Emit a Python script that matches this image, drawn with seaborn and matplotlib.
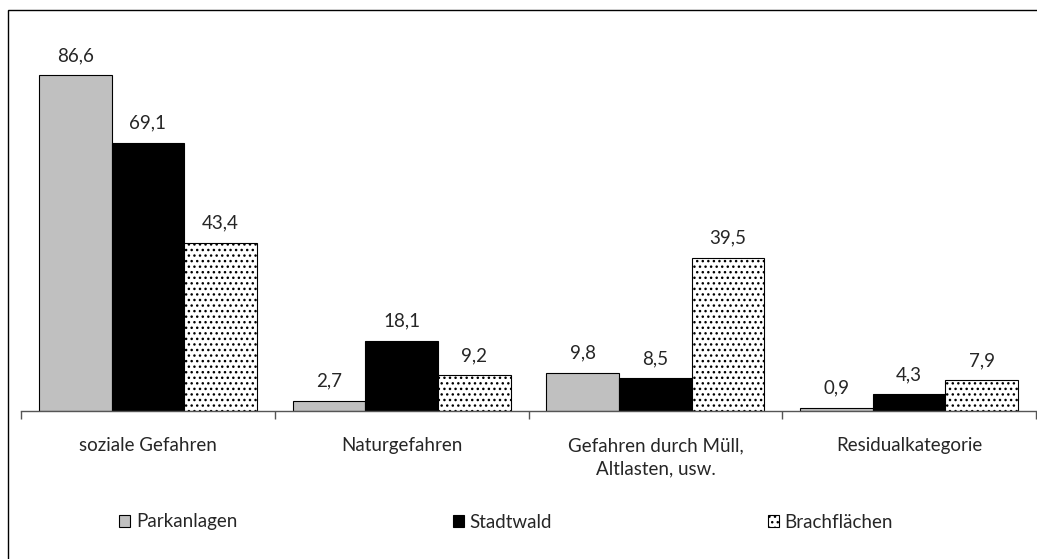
import seaborn as sns
import matplotlib.pyplot as plt
import pandas as pd
from matplotlib.patches import Rectangle

# values (percent)
categories = ['soziale Gefahren', 'Naturgefahren', 'Gefahren durch Müll,\nAltlasten, usw.', 'Residualkategorie']
series = ['Parkanlagen', 'Stadtwald', 'Brachflächen']
parkanlagen = [86.6, 2.7, 9.8, 0.9]
stadtwald = [69.1, 18.1, 8.5, 4.3]
brachflaechen = [43.4, 9.2, 39.5, 7.9]

df = pd.DataFrame({
    'Kategorie': categories * 3,
    'Gebiet': [s for s in series for _ in categories],
    'Wert': parkanlagen + stadtwald + brachflaechen,
})

sns.set_style('white')
plt.rcParams['font.family'] = ['Lato', 'DejaVu Sans']
plt.rcParams['hatch.color'] = '#444444'
plt.rcParams['hatch.linewidth'] = 1.0

fs = 13.5
fig = plt.figure(figsize=(10.37, 5.59), dpi=100)
ax = fig.add_axes([21 / 1037, 1 - 411 / 559, 1015 / 1037, 388 / 559])

# outer chart frame (extends past right/bottom edge like in the reference)
fig.patches.append(Rectangle((8 / 1037, -0.1), 1.2, 1 - 10 / 559 + 0.1,
                             transform=fig.transFigure, fill=False,
                             edgecolor='black', linewidth=1.0))

colors = ['#c0c0c0', '#000000', '#ffffff']
sns.barplot(data=df, x='Kategorie', y='Wert', hue='Gebiet', palette=colors,
            width=0.86, edgecolor='black', linewidth=0.8, ax=ax, legend=True)

for bar in ax.containers[2]:
    bar.set_hatch('...')

for cont in ax.containers:
    ax.bar_label(cont, labels=[f'{v:.1f}'.replace('.', ',') for v in cont.datavalues],
                 padding=8, fontsize=fs)

ax.set_ylim(0, 100)
ax.set_xlim(-0.5, 3.5)
ax.set_xlabel('')
ax.set_ylabel('')
ax.set_yticks([])
for s in ['left', 'right', 'top']:
    ax.spines[s].set_visible(False)
ax.spines['bottom'].set_linewidth(1.0)
ax.spines['bottom'].set_color('#555555')

ax.set_xticks([-0.5, 0.5, 1.5, 2.5, 3.5])
ax.set_xticklabels([])
ax.tick_params(axis='x', which='major', length=6, width=1.0, color='#555555', bottom=True)
ax.set_xticks([0, 1, 2, 3], minor=True)
ax.set_xticklabels(categories, minor=True, fontsize=fs, linespacing=1.4)
ax.tick_params(axis='x', which='minor', length=0, pad=19)

handles, labels = ax.get_legend_handles_labels()
ax.get_legend().remove()
handles[2].set_hatch('...')
leg = fig.legend(handles, labels, loc='center', bbox_to_anchor=(0.488, 1 - 522 / 559),
                 ncol=3, frameon=False, fontsize=fs, handlelength=0.6, handleheight=0.6,
                 handletextpad=0.3, columnspacing=11.5)

fig.savefig('out.png', dpi=100)
